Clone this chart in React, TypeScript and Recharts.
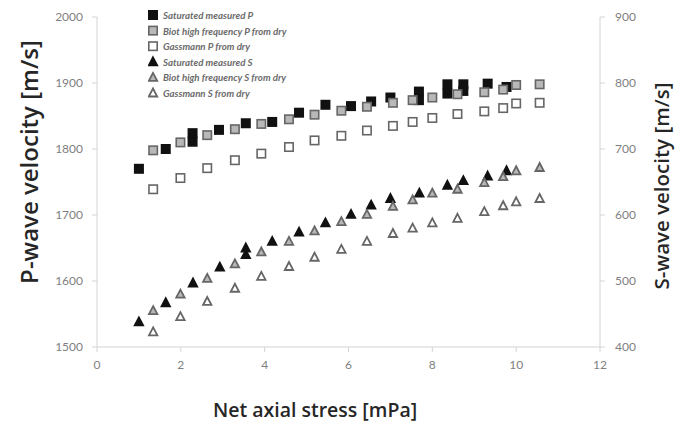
import React from 'react'
import { ScatterChart, Scatter, XAxis, YAxis, Label } from 'recharts'

// Net axial stress [mPa] for each series
const satPX = [1.0, 1.64, 2.28, 2.28, 2.91, 3.55, 4.18, 4.82, 5.45, 6.06, 6.54, 7.0, 7.68, 7.68, 8.36, 8.36, 8.74, 8.74, 9.32, 9.77]
const satP = [1770, 1800, 1811, 1824, 1829, 1839, 1841, 1855, 1867, 1865, 1872, 1878, 1887, 1874, 1898, 1884, 1898, 1888, 1899, 1894]

const dryX = [1.34, 1.99, 2.63, 3.29, 3.92, 4.58, 5.19, 5.83, 6.44, 7.06, 7.53, 8.0, 8.6, 9.24, 9.69, 10.0, 10.56]
const biotP = [1798, 1810, 1821, 1830, 1838, 1845, 1852, 1858, 1864, 1870, 1874, 1878, 1883, 1886, 1890, 1897, 1898]
const gassP = [1739, 1756, 1771, 1783, 1793, 1803, 1813, 1820, 1828, 1835, 1841, 1847, 1853, 1857, 1862, 1869, 1870]

const satSX = [1.0, 1.64, 2.29, 2.93, 3.55, 3.55, 4.18, 4.82, 5.45, 6.06, 6.54, 7.0, 7.69, 8.36, 8.74, 9.32, 9.77]
const satS = [438, 467, 497, 521, 550, 540, 560, 574, 588, 601, 615, 625, 633, 645, 652, 659, 667]
const biotS = [455, 480, 504, 526, 544, 560, 576, 590, 601, 613, 623, 633, 639, 649, 658, 667, 672]
const gassS = [423, 446, 469, 489, 507, 522, 536, 548, 560, 572, 580, 588, 595, 605, 614, 620, 625]

const xTicks = [0, 2, 4, 6, 8, 10, 12]
const pTicks = [1500, 1600, 1700, 1800, 1900, 2000]
const sTicks = [400, 500, 600, 700, 800, 900]

const toPoints = (xs: number[], ys: number[]) => xs.map((x, i) => ({ x, y: ys[i] }))

type Mark = 'square' | 'triangle'

interface SeriesDef {
  name: string
  axis: 'p' | 's'
  mark: Mark
  fill: string
  stroke: string
  data: { x: number; y: number }[]
}

const series: SeriesDef[] = [
  { name: 'Saturated measured P', axis: 'p', mark: 'square', fill: '#111', stroke: '#111', data: toPoints(satPX, satP) },
  { name: 'Biot high frequency P from dry', axis: 'p', mark: 'square', fill: '#b8b8b8', stroke: '#666', data: toPoints(dryX, biotP) },
  { name: 'Gassmann P from dry', axis: 'p', mark: 'square', fill: '#fff', stroke: '#666', data: toPoints(dryX, gassP) },
  { name: 'Saturated measured S', axis: 's', mark: 'triangle', fill: '#111', stroke: '#111', data: toPoints(satSX, satS) },
  { name: 'Biot high frequency S from dry', axis: 's', mark: 'triangle', fill: '#b8b8b8', stroke: '#666', data: toPoints(dryX, biotS) },
  { name: 'Gassmann S from dry', axis: 's', mark: 'triangle', fill: '#fff', stroke: '#666', data: toPoints(dryX, gassS) },
]

function Marker({ cx, cy, mark, fill, stroke }: { cx: number; cy: number; mark: Mark; fill: string; stroke: string }) {
  if (mark === 'square') {
    return <rect x={cx - 4.2} y={cy - 4.2} width={8.4} height={8.4} fill={fill} stroke={stroke} strokeWidth={1.6} />
  }
  return (
    <path
      d={`M${cx},${cy - 4.5} L${cx + 4.2},${cy + 3.5} L${cx - 4.2},${cy + 3.5} Z`}
      fill={fill}
      stroke={stroke}
      strokeWidth={1.8}
      strokeLinejoin="miter"
    />
  )
}

// legend sits inside the plot, top left, like the original
function LegendBox() {
  return (
    <svg width={160} height={100} style={{ position: 'absolute', left: 148, top: 6 }}>
      {series.map((s, i) => {
        const cy = 9 + i * 15.6
        return (
          <g key={s.name}>
            <Marker cx={5} cy={cy} mark={s.mark} fill={s.fill} stroke={s.stroke} />
            <text
              x={15}
              y={cy}
              dominantBaseline="central"
              fontFamily="Lato"
              fontStyle="italic"
              fontWeight="bold"
              fontSize={9.7}
              fill="#6b6b6b"
            >
              {s.name}
            </text>
          </g>
        )
      })}
    </svg>
  )
}

const axisColor = '#d4d4d4'
const tickStyle = { fill: '#7f7f7f', fontSize: 12, fontFamily: 'Lato' }
const titleStyle = { fill: '#262626', fontFamily: 'Open Sans', fontWeight: 600 }

export default function App() {
  return (
    <div style={{ position: 'absolute', left: 0, top: 0, width: 693, height: 421, background: '#fff' }}>
      <ScatterChart width={693} height={421} margin={{ top: 17, right: 0, bottom: 0, left: 0 }}>
        <XAxis
          type="number"
          dataKey="x"
          domain={[0, 12]}
          ticks={xTicks}
          height={74}
          axisLine={{ stroke: axisColor }}
          tickLine={{ stroke: axisColor }}
          tickSize={5}
          tickMargin={8}
          tick={tickStyle}
        >
          <Label
            content={() => (
              <text x={315} y={409} textAnchor="middle" dominantBaseline="central" fontSize={19.5} {...titleStyle}>
                Net axial stress [mPa]
              </text>
            )}
          />
        </XAxis>
        <YAxis
          yAxisId="p"
          type="number"
          dataKey="y"
          orientation="left"
          domain={[1500, 2000]}
          ticks={pTicks}
          width={97}
          axisLine={{ stroke: axisColor }}
          tickLine={{ stroke: axisColor }}
          tickSize={5}
          tickMargin={9}
          tick={tickStyle}
        >
          <Label
            content={() => (
              <text
                x={28}
                y={162}
                transform="rotate(-90 28 162)"
                textAnchor="middle"
                dominantBaseline="central"
                fontSize={24}
                {...titleStyle}
              >
                P-wave velocity [m/s]
              </text>
            )}
          />
        </YAxis>
        <YAxis
          yAxisId="s"
          type="number"
          dataKey="y"
          orientation="right"
          domain={[400, 900]}
          ticks={sTicks}
          width={93}
          axisLine={{ stroke: axisColor }}
          tickLine={{ stroke: axisColor }}
          tickSize={5}
          tickMargin={10}
          tick={tickStyle}
        >
          <Label
            content={() => (
              <text
                x={661}
                y={186}
                transform="rotate(-90 661 186)"
                textAnchor="middle"
                dominantBaseline="central"
                fontSize={20.5}
                {...titleStyle}
              >
                S-wave velocity [m/s]
              </text>
            )}
          />
        </YAxis>
        {series.map((s) => (
          <Scatter
            key={s.name}
            name={s.name}
            data={s.data}
            yAxisId={s.axis}
            isAnimationActive={false}
            shape={(props: any) => (
              <Marker cx={props.cx} cy={props.cy} mark={s.mark} fill={s.fill} stroke={s.stroke} />
            )}
          />
        ))}
      </ScatterChart>
      <LegendBox />
    </div>
  )
}
